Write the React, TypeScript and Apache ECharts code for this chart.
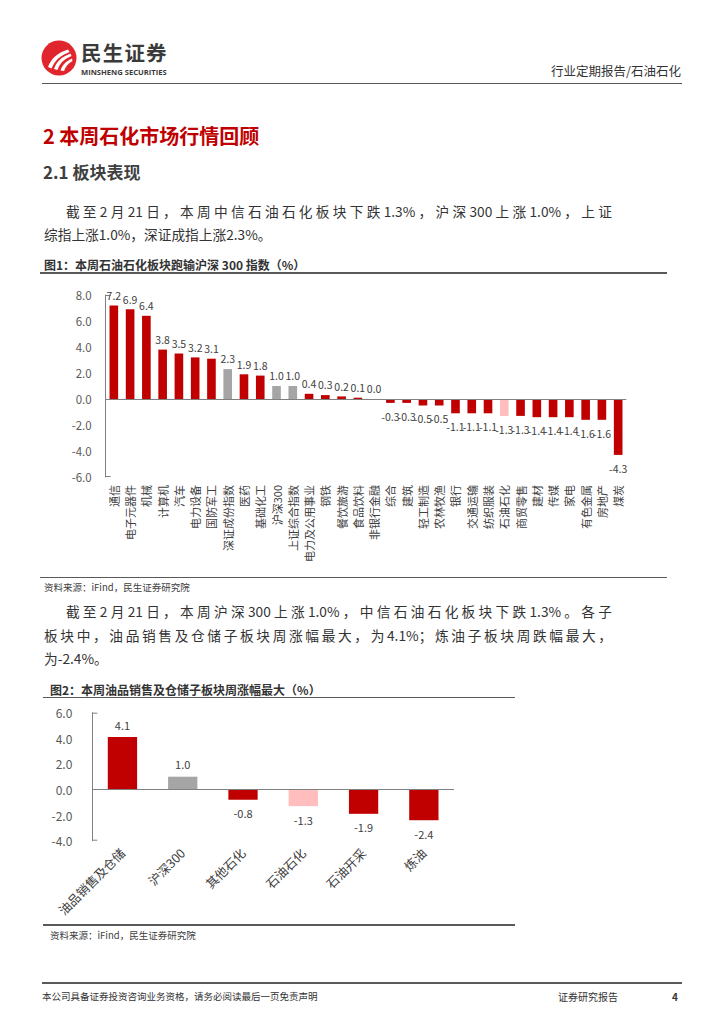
import React, { useEffect, useRef } from "react";
import * as echarts from "echarts";

// ---------- data ----------
const sectorNames = [
  "通信", "电子元器件", "机械", "计算机", "汽车", "电力设备", "国防军工", "深证成份指数",
  "医药", "基础化工", "沪深300", "上证综合指数", "电力及公用事业", "钢铁", "餐饮旅游", "食品饮料",
  "非银行金融", "综合", "建筑", "轻工制造", "农林牧渔", "银行", "交通运输", "纺织服装",
  "石油石化", "商贸零售", "建材", "传媒", "家电", "有色金属", "房地产", "煤炭",
];
const sectorChanges = [
  7.2, 6.9, 6.4, 3.8, 3.5, 3.2, 3.1, 2.3,
  1.9, 1.8, 1.0, 1.0, 0.4, 0.3, 0.2, 0.1,
  0.0, -0.3, -0.3, -0.5, -0.5, -1.1, -1.1, -1.1,
  -1.3, -1.3, -1.4, -1.4, -1.4, -1.6, -1.6, -4.3,
];
const indexNames = ["深证成份指数", "沪深300", "上证综合指数"];
const focusName = "石油石化";

const subNames = ["油品销售及仓储", "沪深300", "其他石化", "石油石化", "石油开采", "炼油"];
const subChanges = [4.1, 1.0, -0.8, -1.3, -1.9, -2.4];

const axis1Range = [-6, 8];
const axis1Step = 2;
const axis2Range = [-4, 6];
const axis2Step = 2;

// ---------- style ----------
const FONT = "'Noto Sans CJK SC', 'Noto Sans', sans-serif";
const RED = "#C00000";
const GRAY = "#A5A5A5";
const PINK = "#FFBDBD";
const AXIS = "#808080";

const colorFor = (name: string) =>
  name === focusName ? PINK : indexNames.includes(name) ? GRAY : RED;

function buildOption(
  names: string[],
  values: number[],
  range: number[],
  step: number,
  g: { left: number; top: number; width: number; height: number },
  cfg: {
    barWidth: string;
    rotate: number;
    xFont: number;
    xMargin: number;
    yFont: number;
    yMargin: number;
    vFont: number;
    upDist: number;
    downDist: number;
  }
) {
  const capLen = 5;
  return {
    animation: false,
    grid: { left: g.left, top: g.top, width: g.width, height: g.height },
    xAxis: {
      type: "category",
      data: names,
      axisLine: { show: false, onZero: false },
      axisTick: { show: false },
      axisLabel: {
        interval: 0,
        rotate: cfg.rotate,
        margin: cfg.xMargin,
        fontSize: cfg.xFont,
        color: "#404040",
        fontFamily: FONT,
      },
    },
    yAxis: {
      type: "value",
      min: range[0],
      max: range[1],
      interval: step,
      axisLine: { show: true, lineStyle: { color: AXIS, width: 1 } },
      axisTick: { show: false },
      splitLine: { show: false },
      axisLabel: {
        formatter: (v: number) => v.toFixed(1),
        margin: cfg.yMargin,
        fontSize: cfg.yFont,
        color: "#595959",
        fontFamily: FONT,
      },
    },
    series: [
      {
        type: "bar",
        barWidth: cfg.barWidth,
        data: values.map((v, i) => ({
          value: v,
          itemStyle: { color: colorFor(names[i]) },
          label: {
            position: v < 0 ? "bottom" : "top",
            distance: v < 0 ? cfg.downDist : cfg.upDist,
          },
        })),
        label: {
          show: true,
          formatter: (p: any) => Number(p.value).toFixed(1),
          fontSize: cfg.vFont,
          color: "#404040",
          fontFamily: FONT,
        },
        markLine: {
          silent: true,
          symbol: "none",
          label: { show: false },
          lineStyle: { color: AXIS, type: "solid", width: 1 },
          data: [{ yAxis: 0 }],
        },
      },
    ],
    graphic: [
      {
        type: "line",
        shape: { x1: g.left, y1: g.top + 0.5, x2: g.left + capLen, y2: g.top + 0.5 },
        style: { stroke: AXIS, lineWidth: 1 },
      },
      {
        type: "line",
        shape: {
          x1: g.left,
          y1: g.top + g.height - 0.5,
          x2: g.left + capLen,
          y2: g.top + g.height - 0.5,
        },
        style: { stroke: AXIS, lineWidth: 1 },
      },
    ],
  };
}

function Chart({ option, style }: { option: any; style: React.CSSProperties }) {
  const ref = useRef<HTMLDivElement>(null);
  useEffect(() => {
    if (!ref.current) return;
    const chart = echarts.init(ref.current, undefined, { renderer: "svg" });
    chart.setOption(option);
    return () => chart.dispose();
  }, [option]);
  return <div ref={ref} style={{ position: "absolute", ...style }} />;
}

function T({
  x,
  y,
  size,
  children,
  weight = 400,
  color = "#333",
  right = false,
  ls = 0,
  lhf = 1.4,
  toX,
}: {
  x: number;
  y: number;
  size: number;
  children: React.ReactNode;
  weight?: number;
  color?: string;
  right?: boolean;
  ls?: number;
  lhf?: number;
  toX?: number;
}) {
  const lh = size * lhf;
  const pos: React.CSSProperties = right ? { right: 724 - x } : { left: x };
  const just: React.CSSProperties =
    toX !== undefined
      ? { width: toX - x, textAlign: "justify", textAlignLast: "justify" as any }
      : { whiteSpace: "nowrap" };
  return (
    <div
      style={{
        position: "absolute",
        top: y - lh / 2,
        ...pos,
        fontSize: size,
        lineHeight: lh + "px",
        fontWeight: weight,
        color,
        letterSpacing: ls,
        fontFamily: FONT,
        ...just,
      }}
    >
      {children}
    </div>
  );
}

function HLine({ x1, x2, y, color = "#595959", w = 1 }: { x1: number; x2: number; y: number; color?: string; w?: number }) {
  return (
    <div
      style={{ position: "absolute", left: x1, top: y - w / 2, width: x2 - x1, height: w, background: color }}
    />
  );
}

const option1 = buildOption(
  sectorNames,
  sectorChanges,
  axis1Range,
  axis1Step,
  { left: 105.7, top: 15, width: 520.6, height: 182 },
  {
    barWidth: "53%",
    rotate: 90,
    xFont: 11,
    xMargin: 8,
    yFont: 11.5,
    yMargin: 14,
    vFont: 10.5,
    upDist: 5,
    downDist: 8,
  }
);

const option2 = buildOption(
  subNames,
  subChanges,
  axis2Range,
  axis2Step,
  { left: 92.3, top: 12.7, width: 361.7, height: 128 },
  {
    barWidth: "48.6%",
    rotate: 45,
    xFont: 12.5,
    xMargin: 10,
    yFont: 12,
    yMargin: 20,
    vFont: 11,
    upDist: 7,
    downDist: 8,
  }
);

export default function App() {
  const BODY = 13.7;
  const RIGHT = 612;
  return (
    <div
      style={{
        position: "absolute",
        left: 0,
        top: 0,
        width: 724,
        height: 1024,
        background: "#fff",
        overflow: "hidden",
        fontFamily: FONT,
      }}
    >
      {/* header logo */}
      <svg
        width={36}
        height={36}
        viewBox="0 0 36 36"
        style={{ position: "absolute", left: 41, top: 40 }}
      >
        <circle cx={18} cy={18} r={17.5} fill="#E0262C" />
        <path d="M7 27 C10 19 16 13 27 9.5 L28.5 12 C19 15.5 14 20.5 10.5 28.5 Z" fill="#fff" />
        <path d="M13 29 C15.5 22 20 17 29.5 13.5 L30.5 16 C23 19 19 23 16.5 30 Z" fill="#fff" />
        <path d="M19.5 30.5 C21 25.5 24.5 21.5 31 18.5 L31.5 21 C27 23.5 24.5 26.5 23 31 Z" fill="#fff" />
      </svg>
      <T x={81} y={52} size={20.5} weight={700} color="#3a3a3a" ls={1.2} lhf={1.0}>
        民生证券
      </T>
      <div
        style={{
          position: "absolute",
          left: 81,
          top: 67.5,
          fontSize: 7.6,
          lineHeight: "8px",
          fontWeight: 700,
          color: "#3a3a3a",
          fontFamily: "'Open Sans', 'Noto Sans', sans-serif",
          whiteSpace: "nowrap",
          letterSpacing: 0,
        }}
      >
        MINSHENG SECURITIES
      </div>
      <T x={681} y={71} size={12.5} right color="#333">
        行业定期报告/石油石化
      </T>
      <HLine x1={42} x2={682} y={83.5} color="#595959" w={1.2} />

      {/* headings */}
      <T x={43} y={136} size={20} weight={700} color={RED}>
        2 本周石化市场行情回顾
      </T>
      <T x={43} y={172} size={17} weight={700} color="#404040">
        2.1 板块表现
      </T>

      {/* paragraph 1 */}
      <T x={44 + BODY * 1.6} y={212} size={BODY} toX={RIGHT}>
        截至2月21日，本周中信石油石化板块下跌1.3%，沪深300上涨1.0%，上证
      </T>
      <T x={44} y={235} size={BODY}>
        综指上涨1.0%，深证成指上涨2.3%。
      </T>

      {/* figure 1 */}
      <T x={44} y={265} size={12} weight={700} color="#333">
        图1：本周石油石化板块跑输沪深 300 指数（%）
      </T>
      <HLine x1={40} x2={667} y={273} color="#595959" w={1.2} />
      <Chart option={option1} style={{ left: 0, top: 280, width: 724, height: 295 }} />
      <HLine x1={40} x2={667} y={577.5} color="#595959" w={1.6} />
      <T x={44} y={588} size={9.5} color="#404040">
        资料来源：iFind，民生证券研究院
      </T>

      {/* paragraph 2 */}
      <T x={44 + BODY * 1.6} y={612} size={BODY} toX={RIGHT}>
        截至2月21日，本周沪深300上涨1.0%，中信石油石化板块下跌1.3%。各子
      </T>
      <T x={44} y={636} size={BODY} toX={RIGHT}>
        板块中，油品销售及仓储子板块周涨幅最大，为4.1%；炼油子板块周跌幅最大，
      </T>
      <T x={44} y={659} size={BODY}>
        为-2.4%。
      </T>

      {/* figure 2 */}
      <T x={50} y={690} size={12} weight={700} color="#333">
        图2：本周油品销售及仓储子板块周涨幅最大（%）
      </T>
      <HLine x1={43} x2={515} y={697.5} color="#595959" w={1.2} />
      <Chart option={option2} style={{ left: 0, top: 700, width: 724, height: 220 }} />
      <HLine x1={43} x2={515} y={925} color="#595959" w={1.6} />
      <T x={50} y={936} size={9.5} color="#404040">
        资料来源：iFind，民生证券研究院
      </T>

      {/* footer */}
      <HLine x1={42} x2={682} y={983} color="#595959" w={1.2} />
      <T x={42} y={997} size={9.5} color="#333">
        本公司具备证券投资咨询业务资格，请务必阅读最后一页免责声明
      </T>
      <T x={558} y={997} size={10} color="#333">
        证券研究报告
      </T>
      <T x={672} y={997} size={10} weight={700} color="#333">
        4
      </T>
    </div>
  );
}
